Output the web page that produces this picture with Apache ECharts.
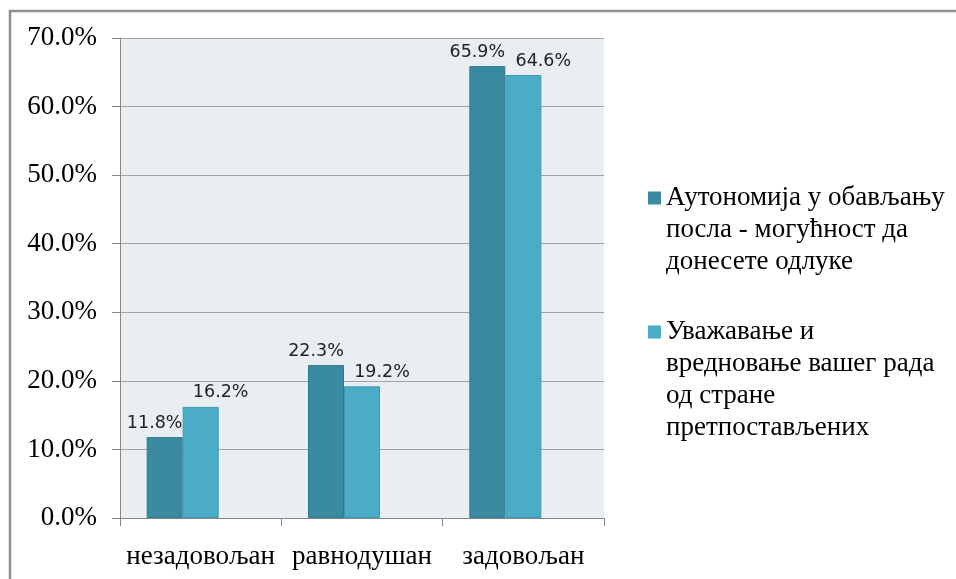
<!DOCTYPE html>
<html>
<head>
<meta charset="utf-8">
<script src="https://cdn.jsdelivr.net/npm/echarts@6/dist/echarts.min.js"></script>
<style>
html,body{margin:0;padding:0;background:#fff;}
#chart{width:956px;height:579px;}
</style>
</head>
<body>
<div id="chart"></div>
<script>
var categories = ['незадовољан', 'равнодушан', 'задовољан'];
var seriesNames = [
  'Аутономија у обављању посла - могућност да донесете одлуке',
  'Уважавање и вредновање вашег рада од стране претпостављених'
];
var legendLines = [
  ['Аутономија у обављању', 'посла - могућност да', 'донесете одлуке'],
  ['Уважавање и', 'вредновање вашег рада', 'од стране', 'претпостављених']
];
var autonomyValues = [11.8, 22.3, 65.9];
var appreciationValues = [16.2, 19.2, 64.6];
var emptyValues = [null, null, null];
var yTicks = [0, 10, 20, 30, 40, 50, 60, 70];

var serif = '"Liberation Serif", "Times New Roman", serif';
var sans = '"DejaVu Sans", sans-serif';
var darkColor = '#3A8AA1';
var lightColor = '#4BACC6';

// legend icons: square at first-line level inside a 13x128 box
var iconItem1 = 'path://M0,0L0.01,0L0,0.01Z M0,25.5L13,25.5L13,38.5L0,38.5Z M0,128L0.01,128L0,127.99Z';
var iconItem2 = 'path://M0,0L0.01,0L0,0.01Z M0,9.5L13,9.5L13,22.5L0,22.5Z M0,128L0.01,128L0,127.99Z';

var chart = echarts.init(document.getElementById('chart'));
chart.setOption({
  animation: false,
  backgroundColor: '#ffffff',
  graphic: [{
    type: 'rect',
    silent: true,
    shape: {x: 10, y: 11, width: 1500, height: 1500},
    style: {fill: 'none', stroke: '#8f8f8f', lineWidth: 2.5}
  }],
  grid: {
    left: 120, right: 352, top: 38, bottom: 61,
    show: true, backgroundColor: '#E8EEF2', borderWidth: 0
  },
  legend: {
    orient: 'vertical',
    left: 648, top: 166,
    padding: 0,
    itemGap: 22,
    itemWidth: 13,
    itemHeight: 128,
    itemStyle: {borderWidth: 0},
    data: [
      {name: seriesNames[0], icon: iconItem1},
      {name: seriesNames[1], icon: iconItem2}
    ],
    formatter: function (name) {
      var i = seriesNames.indexOf(name);
      return legendLines[i].join('\n');
    },
    textStyle: {fontFamily: serif, fontSize: 27, lineHeight: 32, color: '#000'},
    selectedMode: false
  },
  xAxis: {
    type: 'category',
    data: categories,
    axisLine: {lineStyle: {color: '#868686', width: 1}},
    axisTick: {show: true, length: 8, lineStyle: {color: '#868686'}},
    axisLabel: {fontFamily: serif, fontSize: 27, color: '#000', margin: 25, interval: 0}
  },
  yAxis: {
    type: 'value',
    min: yTicks[0], max: yTicks[yTicks.length - 1], interval: 10,
    axisLine: {show: true, lineStyle: {color: '#868686', width: 1}},
    axisTick: {show: true, length: 8, lineStyle: {color: '#868686'}},
    splitLine: {show: true, lineStyle: {color: '#A3A3A3', width: 1}},
    axisLabel: {
      fontFamily: serif, fontSize: 27, color: '#000', margin: 23,
      formatter: function (v) { return v.toFixed(1) + '%'; }
    }
  },
  series: [
    {
      name: seriesNames[0], type: 'bar', data: autonomyValues,
      barWidth: 36, barGap: '0%',
      itemStyle: {color: darkColor, borderColor: '#33798D', borderWidth: 1},
      label: {
        show: true, position: 'top', distance: 5, offset: [-10, 0],
        fontFamily: sans, fontSize: 17.5, color: '#222',
        formatter: function (p) { return p.value.toFixed(1) + '%'; }
      }
    },
    {
      name: seriesNames[1], type: 'bar', data: appreciationValues,
      barWidth: 36, barGap: '0%',
      itemStyle: {color: lightColor, borderColor: '#3E97AF', borderWidth: 1},
      label: {
        show: true, position: 'top', distance: 5, offset: [20, 0],
        fontFamily: sans, fontSize: 17.5, color: '#222',
        formatter: function (p) { return p.value.toFixed(1) + '%'; }
      }
    },
    {
      name: 'empty', type: 'bar', data: emptyValues,
      barWidth: 36, barGap: '0%'
    }
  ]
});
</script>
</body>
</html>
